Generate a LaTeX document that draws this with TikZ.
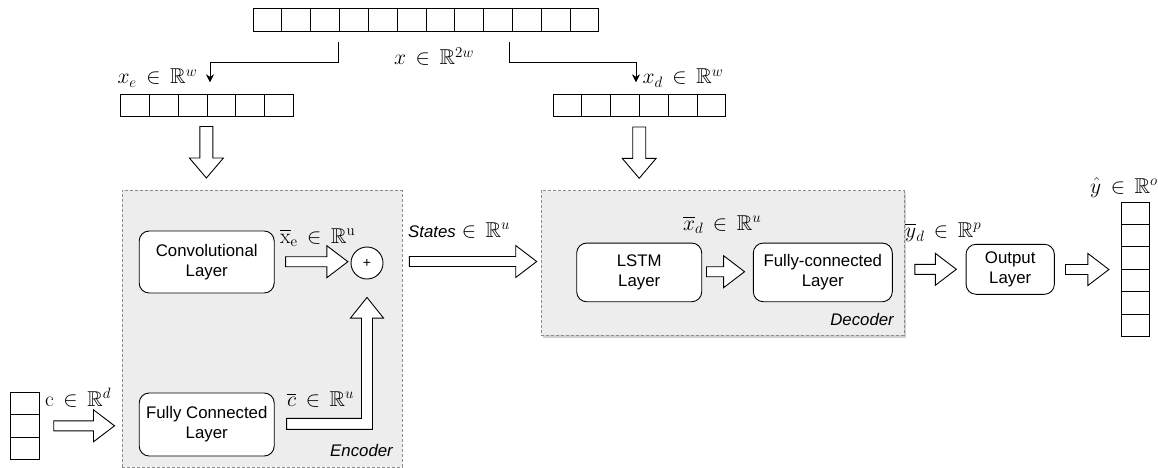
\RequirePackage{fix-cm}
\documentclass[tikz,border=0pt]{standalone}
\usepackage{amssymb}
\usepackage[no-math]{fontspec}
\setmainfont{Liberation Sans}
\usetikzlibrary{calc,arrows.meta}
\newcommand\lyrfont{\fontsize{16.8}{20}\selectfont}
\newcommand\mthfont{\fontsize{21.5}{24}\selectfont}
\newcommand\plusfont{\fontsize{14}{16}\selectfont}
% horizontal hollow arrow: start, tip
\newcommand\hArrowR[2]{\draw[blk] let \p1=#1, \p2=#2 in
  (\x1,\y2+5pt) -- (\x2-21pt,\y2+5pt) -- (\x2-21pt,\y2+16pt) -- (\x2,\y2)
  -- (\x2-21pt,\y2-16pt) -- (\x2-21pt,\y2-5pt) -- (\x1,\y2-5pt) -- cycle;}
% vertical hollow arrow (downwards): start, tip
\newcommand\vArrowD[2]{\draw[blk] let \p1=#1, \p2=#2 in
  (\x2-6.5pt,\y1) -- (\x2+6.5pt,\y1) -- (\x2+6.5pt,\y2+20pt) -- (\x2+17pt,\y2+20pt)
  -- (\x2,\y2) -- (\x2-17pt,\y2+20pt) -- (\x2-6.5pt,\y2+20pt) -- cycle;}
\tikzset{
  cell/.style={draw, line width=0.9pt, fill=white, inner sep=0pt},
  layer/.style={draw, rounded corners=10pt, fill=white, line width=0.9pt,
    align=center, font=\lyrfont, inner sep=0pt},
  grp/.style={draw=black!45, dashed, dash pattern=on 3pt off 2pt, fill=black!7,
    line width=0.8pt, inner sep=0pt},
  blk/.style={draw, fill=white, line width=0.9pt, line join=miter},
  conn/.style={draw, line width=0.9pt, -{Stealth[length=8pt,width=8pt]}},
  lbl/.style={inner sep=0pt, anchor=base west, font=\mthfont},
  grplbl/.style={inner sep=0pt, anchor=base east, font=\lyrfont\itshape},
}
\begin{document}
\begin{tikzpicture}[x=1pt,y=-1pt]
\useasboundingbox (0,0) rectangle (1158,468);

% ---------- groups ----------
\fill[black!18] (543,192.5) rectangle (906,337.5);
\node[grp, minimum width=280pt, minimum height=276.5pt, anchor=north west] (enc) at (121.5,190) {};
\node[grp, minimum width=362.8pt, minimum height=144.7pt, anchor=north west] (dec) at (540.7,190.3) {};
\node[grplbl] (enclbl) at (393,456) {Encoder};
\node[grplbl] (declbl) at (894,325.7) {Decoder};

% ---------- arrays ----------
\node[cell, minimum width=345.6pt, minimum height=23pt] (top) at (426,20.3) {};
\foreach \i in {1,...,11}
  \draw[line width=0.9pt] ($(top.north west)!\i/12!(top.north east)$) -- ($(top.south west)!\i/12!(top.south east)$);
\node[cell, minimum width=172.6pt, minimum height=22pt] (encArr) at (207,105) {};
\foreach \i in {1,...,5}
  \draw[line width=0.9pt] ($(encArr.north west)!\i/6!(encArr.north east)$) -- ($(encArr.south west)!\i/6!(encArr.south east)$);
\node[cell, minimum width=172.8pt, minimum height=22.5pt] (decArr) at (639.5,105.3) {};
\foreach \i in {1,...,5}
  \draw[line width=0.9pt] ($(decArr.north west)!\i/6!(decArr.north east)$) -- ($(decArr.south west)!\i/6!(decArr.south east)$);
\node[cell, minimum width=28.6pt, minimum height=67pt] (cArr) at (25,425.8) {};
\foreach \i in {1,2}
  \draw[line width=0.9pt] ($(cArr.north west)!\i/3!(cArr.south west)$) -- ($(cArr.north east)!\i/3!(cArr.south east)$);
\node[cell, minimum width=28.3pt, minimum height=133.7pt] (outArr) at (1135.2,269.2) {};
\foreach \i in {1,...,5}
  \draw[line width=0.9pt] ($(outArr.north west)!\i/6!(outArr.south west)$) -- ($(outArr.north east)!\i/6!(outArr.south east)$);

% ---------- layers ----------
\node[layer, minimum width=135pt, minimum height=62pt] (conv) at (206.7,262) {Convolutional\\Layer};
\node[layer, minimum width=135pt, minimum height=63pt] (fc) at (206.7,424.5) {Fully Connected\\Layer};
\node[draw, circle, fill=white, line width=0.9pt, minimum size=32pt, inner sep=0pt, font=\plusfont] (plus) at (367,263) {+};
\node[layer, minimum width=125pt, minimum height=58.7pt] (lstm) at (639.2,272.4) {LSTM\\Layer};
\node[layer, minimum width=139pt, minimum height=58.7pt] (fcd) at (822.8,272.4) {Fully-connected\\Layer};
\node[layer, minimum width=88.3pt, minimum height=50pt] (outl) at (1010.2,269.3) {Output\\Layer};

% ---------- thin connectors ----------
\coordinate (tl) at (338.3,42);
\coordinate (el) at (210,82.3);
\coordinate (tr) at (509,42);
\coordinate (er) at (636,82.3);
\draw[conn] (tl) |- ($(el)+(0,-20)$) -- (el);
\draw[conn] (tr) |- ($(er)+(0,-20)$) -- (er);

% ---------- hollow arrows ----------
\vArrowD{($(encArr.south)+(-1,10)$)}{($(enc.north)+(-55.5,-12)$)}
\vArrowD{($(decArr.south)+(0,10)$)}{($(dec.north)+(-83.3,-12)$)}
\hArrowR{($(cArr.east)+(14,0)$)}{($(cArr.east -| enc.west)+(-7,0)$)}
\hArrowR{($(conv.east)+(11,0)$)}{($(plus.west)+(-2.7,-1.3)$)}
\draw[blk] let \p1=($(fc.east)+(12,-0.7)$), \p2=($(plus.south)+(0,18)$) in
  (\x1,\y1+5.5pt) -- (\x2-5.5pt,\y1+5.5pt) -- (\x2-5.5pt,\y2-20.6pt) -- (\x2-16.5pt,\y2-20.6pt)
  -- (\x2,\y2) -- (\x2+16.5pt,\y2-20.6pt) -- (\x2+5.5pt,\y2-20.6pt) -- (\x2+5.5pt,\y1-5.5pt)
  -- (\x1,\y1-5.5pt) -- cycle;
\hArrowR{($(enc.east)+(7,0)$)}{($(plus -| dec.west)+(-4,-1.5)$)}
\hArrowR{($(lstm.east)+(4.3,0)$)}{($(fcd.west)+(-8.3,-0.7)$)}
\hArrowR{($(dec.east)+(10.5,0)$)}{($(outl.west)+(-9.3,0)$)}
\hArrowR{($(outl.east)+(10.7,0)$)}{($(outArr.west)+(-11.7,0.3)$)}

% ---------- labels ----------
\node[lbl] (lx) at (394,65) {$x\,\in\,\mathbb{R}^{2w}$};
\node[lbl] (lxe) at (117.3,84) {$x_e\,\in\,\mathbb{R}^{w}$};
\node[lbl] (lxd) at (642.5,84) {$x_d\,\in\,\mathbb{R}^{w}$};
\node[lbl] (lxbe) at (280,243) {$\overline{\mathrm{x}}_{\mathrm{e}}\,\in\,\mathbb{R}^{\mathrm{u}}$};
\node[lbl] (lcb) at (287,406.5) {$\overline{c}\,\in\,\mathbb{R}^{u}$};
\node[lbl] (lc) at (45,406) {$\mathrm{c}\,\in\,\mathbb{R}^{d}$};
\node[lbl] (lst) at (408,237.5) {{\lyrfont\itshape States} $\in\,\mathbb{R}^{u}$};
\node[lbl] (lxbd) at (683,230) {$\overline{x}_d\,\in\,\mathbb{R}^{u}$};
\node[lbl] (lybd) at (905,237) {$\overline{y}_d\,\in\,\mathbb{R}^{p}$};
\node[lbl] (lyh) at (1090,193) {$\hat{y}\,\in\,\mathbb{R}^{o}$};
\end{tikzpicture}
\end{document}
